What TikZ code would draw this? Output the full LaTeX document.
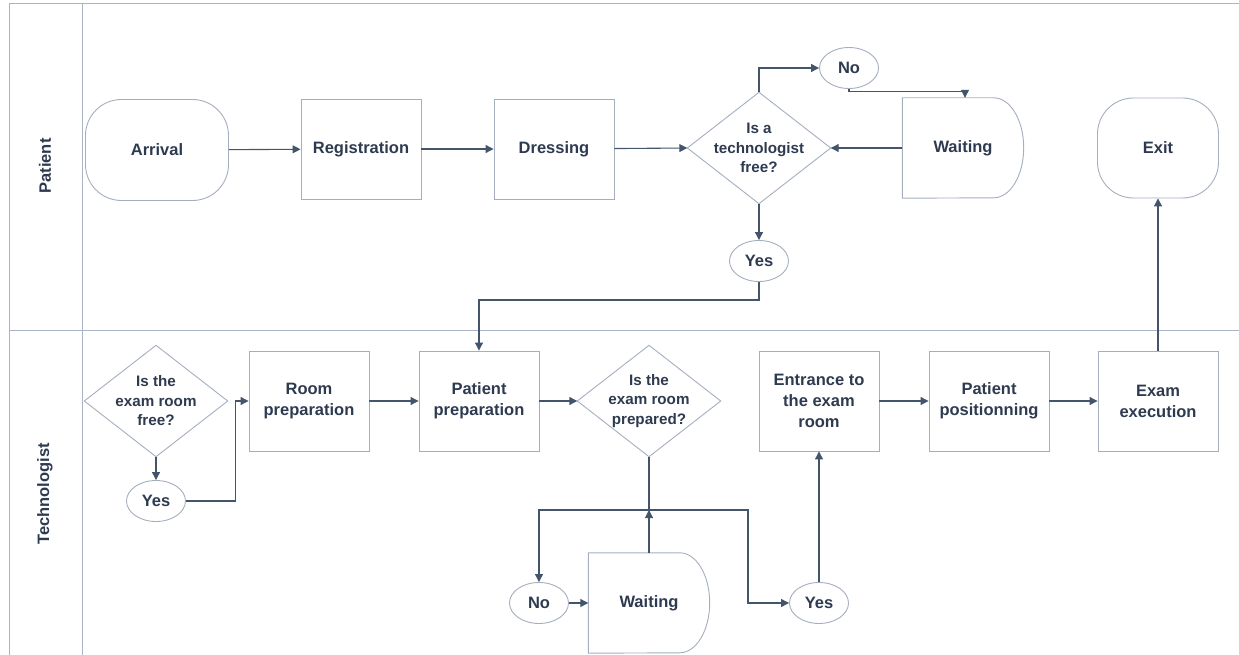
\documentclass[tikz,border=0pt]{standalone}
\usepackage{fontspec}
\setmainfont{Liberation Sans}
\usetikzlibrary{arrows.meta,shapes.geometric}
\definecolor{ink}{HTML}{2E3A4F}
\definecolor{wire}{HTML}{44546A}
\definecolor{edge}{HTML}{A4AEBF}
\definecolor{lane}{HTML}{A9B4C6}
\begin{document}
\begin{tikzpicture}[x=1pt,y=-1pt,
  font=\fontsize{16.5}{21}\selectfont\bfseries, text=ink,
  box/.style={draw=edge, line width=0.9pt, rectangle, minimum width=120pt,
    minimum height=100pt, align=center, inner sep=0pt},
  term/.style={box, rounded corners=36pt},
  frame/.style={rectangle, minimum width=143pt, minimum height=111pt,
    align=center, inner sep=0pt, font=\fontsize{15.2}{19.5}\selectfont\bfseries},
  hold/.style={rectangle, minimum width=121pt, minimum height=100pt, inner sep=0pt},
  outline/.style={draw=edge, line width=0.9pt},
  tag/.style={draw=edge, line width=0.9pt, ellipse, minimum width=59pt,
    minimum height=41pt, inner sep=0pt},
  flow/.style={draw=wire, line width=1.1pt, -{Triangle[length=8pt,width=8pt]}},
  lanerule/.style={draw=lane, line width=1pt}]

\useasboundingbox (0,0) rectangle (1239,655);

% swimlane frame
\draw[lanerule] (9,655) -- (9,4) -- (1239,4);
\draw[lanerule] (82,4) -- (82,655);
\draw[lanerule] (9,330) -- (1239,330);
\node[rotate=90] (lanep) at (45,166) {Patient};
\node[rotate=90] (lanet) at (45,494) {Technologist};

% patient lane
\node[term, minimum width=143pt, minimum height=101pt] (arr) at (157,150) {Arrival};
\node[box] (reg) at (361,149) {Registration};
\node[box] (dre) at (554,149) {Dressing};
\node[frame] (q1) at (759,148) {Is a\\technologist\\free?};
\draw[outline] (q1.north) -- (q1.east) -- (q1.south) -- (q1.west) -- cycle;
\node[tag] (n1) at (849,68) {No};
\node[hold] (w1) at (963,148) {Waiting};
\draw[outline] (w1.north west) -- ([xshift=-30pt]w1.north east)
  arc[start angle=90, end angle=-90, x radius=30pt, y radius=50pt]
  -- (w1.south west) -- cycle;
\node[tag] (y1) at (759,261) {Yes};
\node[term, minimum width=121pt] (ext) at (1158,148) {Exit};

% technologist lane
\node[frame] (q2) at (156,401) {Is the\\exam room\\free?};
\draw[outline] (q2.north) -- (q2.east) -- (q2.south) -- (q2.west) -- cycle;
\node[tag] (y2) at (156,501) {Yes};
\node[box] (rp) at (309,401) {Room\\preparation};
\node[box] (pp) at (479,401) {Patient\\preparation};
\node[frame] (q3) at (649,401) {Is the\\exam room\\prepared?};
\draw[outline] (q3.north) -- (q3.east) -- (q3.south) -- (q3.west) -- cycle;
\node[hold] (w2) at (649,603) {Waiting};
\draw[outline] (w2.north west) -- ([xshift=-30pt]w2.north east)
  arc[start angle=90, end angle=-90, x radius=30pt, y radius=50pt]
  -- (w2.south west) -- cycle;
\node[tag] (n2) at (539,603) {No};
\node[tag] (y3) at (819,603) {Yes};
\node[box] (en) at (819,401) {Entrance to\\the exam\\room};
\node[box] (ps) at (989,401) {Patient\\positionning};
\node[box] (ex) at (1158,401) {Exam\\execution};

% patient flow
\draw[flow] (arr) -- (reg);
\draw[flow] (reg) -- (dre);
\draw[flow] (dre) -- (q1.west);
\draw[flow] (q1.north) |- (n1.west);
\draw[flow] (n1.south) -- ++(0,3) -| ([xshift=2pt]w1.north);
\draw[flow] (w1.west) -- (q1.east);
\draw[flow] (q1.south) -- (y1.north);
\draw[flow] (y1.south) -- ++(0,18) -| (pp.north);

% technologist flow
\draw[flow] (q2.south) -- (y2.north);
\draw[flow] (y2.east) -| ([xshift=-13pt]rp.west) -- (rp.west);
\draw[flow] (rp) -- (pp);
\draw[flow] (pp) -- (q3.west);
\coordinate (split) at (649,510);
\draw[flow] (q3.south) -- (split) -| (n2.north);
\draw[flow] (split) -- (748,510) |- (y3.west);
\draw[flow] (w2.north) -- (split);
\draw[flow] (n2.east) -- (w2.west);
\draw[flow] (y3.north) -- (en.south);
\draw[flow] (en) -- (ps);
\draw[flow] (ps) -- (ex);
\draw[flow] (ex.north) -- (ext.south);
\end{tikzpicture}
\end{document}
